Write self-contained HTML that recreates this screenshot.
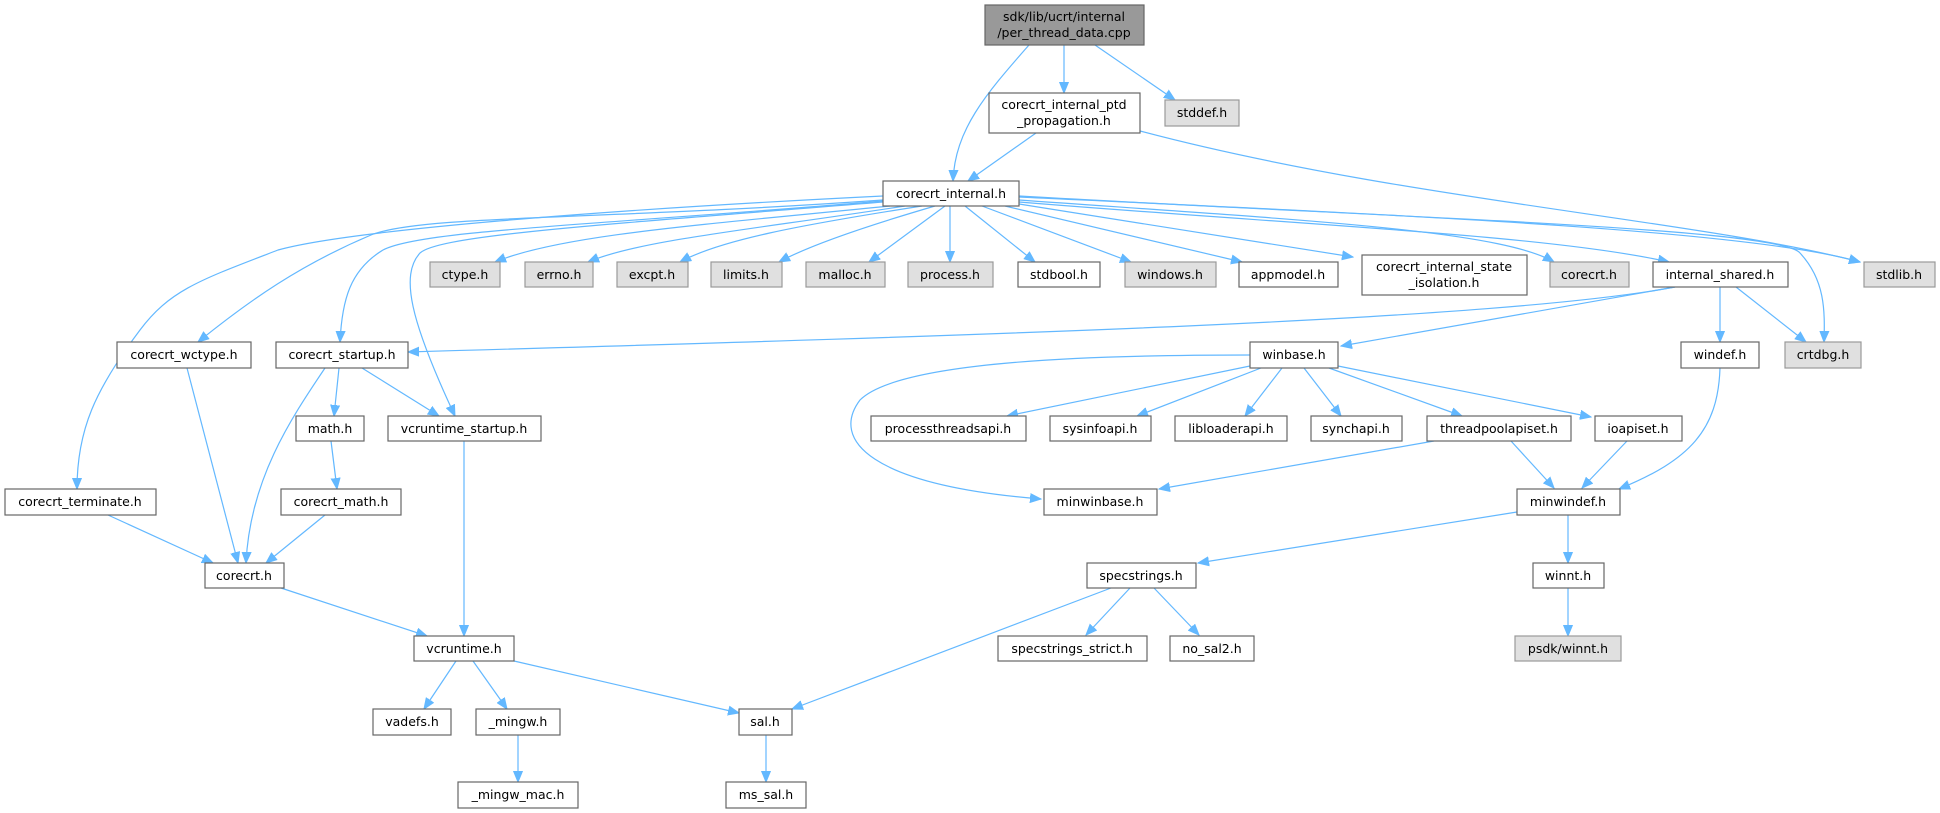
<!DOCTYPE html>
<html><head><meta charset="utf-8"><style>
html,body{margin:0;padding:0;background:#fff;}
svg{display:block;}
text{font-family:"DejaVu Sans","Liberation Sans",sans-serif;font-size:12.5px;fill:#000;text-anchor:middle;}
.w{fill:#fff;stroke:#666;stroke-width:1.2;}
.g{fill:#e0e0e0;stroke:#999;stroke-width:1.2;}
.r{fill:#999;stroke:#666;stroke-width:1.2;}
path.e{fill:none;stroke:#63b8ff;stroke-width:1.2;marker-end:url(#a);}
</style></head><body>
<svg width="1940" height="813" viewBox="0 0 1940 813" xmlns="http://www.w3.org/2000/svg">
<defs><marker id="a" markerUnits="userSpaceOnUse" markerWidth="12" markerHeight="10" refX="11" refY="5" orient="auto"><path d="M0,0.5 L11,5 L0,9.5 z" fill="#63b8ff" stroke="#63b8ff"/></marker></defs>

<!-- edges -->
<path class="e" d="M1029,45 C985,95 955,130 953,181"/>
<path class="e" d="M1064,45 L1064,93"/>
<path class="e" d="M1095,45 L1175,100"/>
<path class="e" d="M1036,133 L968,181"/>
<path class="e" d="M1140,131 C1400,200 1700,220 1860,262"/>
<path class="e" d="M890,206 C700,225 560,235 495,262"/>
<path class="e" d="M905,206 C750,230 640,240 588,262"/>
<path class="e" d="M922,206 C800,225 720,240 680,262"/>
<path class="e" d="M935,206 C870,225 810,245 779,262"/>
<path class="e" d="M945,206 L869,262"/>
<path class="e" d="M950,206 L950,262"/>
<path class="e" d="M965,206 L1035,262"/>
<path class="e" d="M982,206 L1131,262"/>
<path class="e" d="M1005,206 L1242,262"/>
<path class="e" d="M1019,204 L1353,257"/>
<path class="e" d="M1019,200 C1300,220 1500,230 1554,262"/>
<path class="e" d="M1019,202 C1300,225 1550,235 1669,262"/>
<path class="e" d="M1019,197 C1400,215 1750,230 1860,262"/>
<path class="e" d="M1019,196 C1400,218 1780,228 1800,253 C1825,280 1825,310 1824,342"/>
<path class="e" d="M883,200 C600,220 420,215 371,235 C300,265 250,300 198,342"/>
<path class="e" d="M883,201 C600,225 420,230 383,250 C350,270 342,300 340,342"/>
<path class="e" d="M883,202 C600,225 440,235 420,253 C400,275 410,320 455,416"/>
<path class="e" d="M883,196 C600,210 350,230 278,250 C200,280 170,290 140,330 C95,390 77,430 77,489"/>
<path class="e" d="M339,368 L334,416"/>
<path class="e" d="M362,368 L439,416"/>
<path class="e" d="M325,368 C290,420 250,480 246,563"/>
<path class="e" d="M187,368 L238,563"/>
<path class="e" d="M331,441 L337,489"/>
<path class="e" d="M325,515 L266,563"/>
<path class="e" d="M108,515 L213,563"/>
<path class="e" d="M464,441 L464,636"/>
<path class="e" d="M281,588 L427,636"/>
<path class="e" d="M456,661 L424,709"/>
<path class="e" d="M473,661 L507,709"/>
<path class="e" d="M514,661 L739,713"/>
<path class="e" d="M518,735 L518,782"/>
<path class="e" d="M766,735 L766,782"/>
<path class="e" d="M1111,588 L792,709"/>
<path class="e" d="M1675,287 C1500,320 1000,335 408,352"/>
<path class="e" d="M1675,287 L1341,346"/>
<path class="e" d="M1720,287 L1720,342"/>
<path class="e" d="M1736,287 L1806,342"/>
<path class="e" d="M1250,366 L1007,416"/>
<path class="e" d="M1261,368 L1137,416"/>
<path class="e" d="M1282,368 L1245,416"/>
<path class="e" d="M1304,368 L1341,416"/>
<path class="e" d="M1329,368 L1462,416"/>
<path class="e" d="M1338,366 L1591,417"/>
<path class="e" d="M1250,355 C1100,355 900,360 860,400 C830,440 870,485 1041,499"/>
<path class="e" d="M1434,441 L1159,489"/>
<path class="e" d="M1511,441 L1554,488"/>
<path class="e" d="M1627,441 L1582,488"/>
<path class="e" d="M1720,368 C1718,430 1690,460 1619,489"/>
<path class="e" d="M1517,512 L1198,563"/>
<path class="e" d="M1568,515 L1568,563"/>
<path class="e" d="M1568,588 L1568,636"/>
<path class="e" d="M1130,588 L1086,635"/>
<path class="e" d="M1154,588 L1199,635"/>

<!-- nodes -->
<rect class="r" x="985" y="5" width="159" height="40"/><text x="1064" y="21">sdk/lib/ucrt/internal</text><text x="1064" y="37">/per_thread_data.cpp</text>
<rect class="w" x="989" y="93" width="151" height="40"/><text x="1064" y="109">corecrt_internal_ptd</text><text x="1064" y="125">_propagation.h</text>
<rect class="g" x="1165" y="100" width="74" height="26"/><text x="1202" y="117">stddef.h</text>
<rect class="w" x="883" y="181" width="136" height="25"/><text x="951" y="198">corecrt_internal.h</text>

<rect class="g" x="430" y="262" width="70" height="25"/><text x="465" y="279">ctype.h</text>
<rect class="g" x="525" y="262" width="68" height="25"/><text x="559" y="279">errno.h</text>
<rect class="g" x="617" y="262" width="71" height="25"/><text x="652" y="279">excpt.h</text>
<rect class="g" x="711" y="262" width="71" height="25"/><text x="746" y="279">limits.h</text>
<rect class="g" x="806" y="262" width="79" height="25"/><text x="845" y="279">malloc.h</text>
<rect class="g" x="908" y="262" width="85" height="25"/><text x="950" y="279">process.h</text>
<rect class="w" x="1018" y="262" width="82" height="25"/><text x="1059" y="279">stdbool.h</text>
<rect class="g" x="1125" y="262" width="91" height="25"/><text x="1170" y="279">windows.h</text>
<rect class="w" x="1239" y="262" width="99" height="25"/><text x="1288" y="279">appmodel.h</text>
<rect class="w" x="1362" y="255" width="165" height="40"/><text x="1444" y="271">corecrt_internal_state</text><text x="1444" y="287">_isolation.h</text>
<rect class="g" x="1550" y="262" width="79" height="25"/><text x="1589" y="279">corecrt.h</text>
<rect class="w" x="1653" y="262" width="135" height="25"/><text x="1720" y="279">internal_shared.h</text>
<rect class="g" x="1864" y="262" width="71" height="25"/><text x="1899" y="279">stdlib.h</text>

<rect class="w" x="117" y="342" width="134" height="26"/><text x="184" y="359">corecrt_wctype.h</text>
<rect class="w" x="276" y="342" width="132" height="26"/><text x="342" y="359">corecrt_startup.h</text>
<rect class="w" x="1250" y="342" width="88" height="26"/><text x="1294" y="359">winbase.h</text>
<rect class="w" x="1681" y="342" width="78" height="26"/><text x="1720" y="359">windef.h</text>
<rect class="g" x="1785" y="342" width="76" height="26"/><text x="1823" y="359">crtdbg.h</text>

<rect class="w" x="296" y="416" width="68" height="25"/><text x="330" y="433">math.h</text>
<rect class="w" x="388" y="416" width="153" height="25"/><text x="464" y="433">vcruntime_startup.h</text>
<rect class="w" x="871" y="416" width="155" height="25"/><text x="948" y="433">processthreadsapi.h</text>
<rect class="w" x="1050" y="416" width="101" height="25"/><text x="1100" y="433">sysinfoapi.h</text>
<rect class="w" x="1175" y="416" width="112" height="25"/><text x="1231" y="433">libloaderapi.h</text>
<rect class="w" x="1311" y="416" width="91" height="25"/><text x="1356" y="433">synchapi.h</text>
<rect class="w" x="1427" y="416" width="144" height="25"/><text x="1499" y="433">threadpoolapiset.h</text>
<rect class="w" x="1595" y="416" width="87" height="25"/><text x="1638" y="433">ioapiset.h</text>

<rect class="w" x="5" y="489" width="151" height="26"/><text x="80" y="506">corecrt_terminate.h</text>
<rect class="w" x="281" y="489" width="120" height="26"/><text x="341" y="506">corecrt_math.h</text>
<rect class="w" x="1044" y="489" width="113" height="26"/><text x="1100" y="506">minwinbase.h</text>
<rect class="w" x="1517" y="489" width="103" height="26"/><text x="1568" y="506">minwindef.h</text>

<rect class="w" x="205" y="563" width="79" height="25"/><text x="244" y="580">corecrt.h</text>
<rect class="w" x="1087" y="563" width="109" height="25"/><text x="1141" y="580">specstrings.h</text>
<rect class="w" x="1533" y="563" width="71" height="25"/><text x="1568" y="580">winnt.h</text>

<rect class="w" x="414" y="636" width="100" height="25"/><text x="464" y="653">vcruntime.h</text>
<rect class="w" x="998" y="636" width="149" height="25"/><text x="1072" y="653">specstrings_strict.h</text>
<rect class="w" x="1170" y="636" width="84" height="25"/><text x="1212" y="653">no_sal2.h</text>
<rect class="g" x="1515" y="636" width="106" height="25"/><text x="1568" y="653">psdk/winnt.h</text>

<rect class="w" x="373" y="709" width="78" height="26"/><text x="412" y="726">vadefs.h</text>
<rect class="w" x="476" y="709" width="84" height="26"/><text x="518" y="726">_mingw.h</text>
<rect class="w" x="739" y="709" width="53" height="26"/><text x="765" y="726">sal.h</text>

<rect class="w" x="458" y="782" width="120" height="26"/><text x="518" y="799">_mingw_mac.h</text>
<rect class="w" x="726" y="782" width="80" height="26"/><text x="766" y="799">ms_sal.h</text>
</svg>
</body></html>
